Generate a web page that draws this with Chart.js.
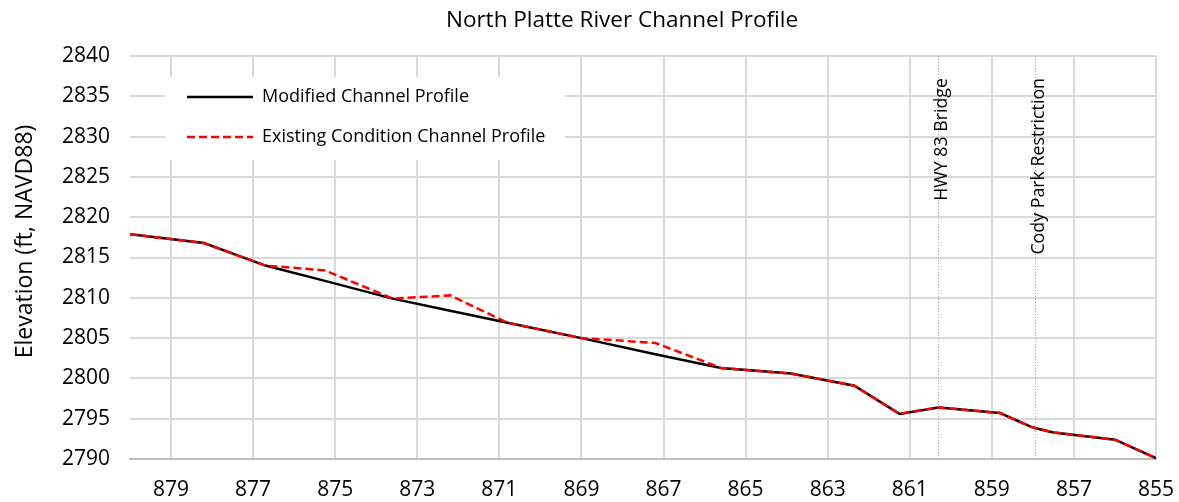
<!DOCTYPE html>
<html>
<head>
<meta charset="utf-8">
<script src="https://cdn.jsdelivr.net/npm/chart.js@4.4.1/dist/chart.umd.min.js"></script>
<style>
  html, body { margin: 0; padding: 0; background: #fff; }
  #wrap { width: 1179px; height: 502px; }
</style>
</head>
<body>
<div id="wrap"><canvas id="profileChart" width="1179" height="502"></canvas></div>
<script>
// river stations (miles) and elevations (ft, NAVD88)
const stations = [880.0, 878.2, 876.7, 875.25, 873.6, 872.2, 870.8, 869.0, 867.2, 865.6, 863.9, 862.35, 861.25, 860.3, 858.8, 858.0, 857.5, 856.0, 855.0];
const modifiedElev = [2817.9, 2816.8, 2814.0, 2812.1, 2809.9, 2808.4, 2806.9, 2805.0, 2803.0, 2801.3, 2800.6, 2799.1, 2795.6, 2796.4, 2795.7, 2793.9, 2793.3, 2792.4, 2790.1];
const existingElev = [2817.9, 2816.8, 2814.0, 2813.4, 2809.9, 2810.3, 2806.9, 2805.0, 2804.4, 2801.3, 2800.6, 2799.1, 2795.6, 2796.4, 2795.7, 2793.9, 2793.3, 2792.4, 2790.1];

const xTicks = [879, 877, 875, 873, 871, 869, 867, 865, 863, 861, 859, 857, 855];
const yTicks = [2790, 2795, 2800, 2805, 2810, 2815, 2820, 2825, 2830, 2835, 2840];

const markerStations = [860.3, 857.95];
const markerLabels = ['HWY 83 Bridge', 'Cody Park Restriction'];

const chartTitle = 'North Platte River Channel Profile';
const yTitle = 'Elevation (ft, NAVD88)';

const FONT = "'Open Sans', 'Noto Sans', sans-serif";

const toPoints = (ys) => stations.map((s, i) => ({ x: s, y: ys[i] }));

// dotted vertical reference lines with rotated labels
const markerPlugin = {
    id: 'markers',
    beforeDatasetsDraw(chart) {
        const { ctx, chartArea, scales } = chart;
        ctx.save();
        markerStations.forEach((s, i) => {
            const x = Math.round(scales.x.getPixelForValue(s)) + 0.5;
            ctx.strokeStyle = '#a0a0a0';
            ctx.lineWidth = 1;
            ctx.setLineDash([1, 2]);
            ctx.beginPath();
            ctx.moveTo(x, chartArea.top);
            ctx.lineTo(x, chartArea.bottom);
            ctx.stroke();

            ctx.setLineDash([]);
            ctx.save();
            ctx.translate(x + 3, chartArea.top + 22);
            ctx.rotate(-Math.PI / 2);
            ctx.fillStyle = '#000';
            ctx.font = '17.8px ' + FONT;
            ctx.textAlign = 'right';
            ctx.textBaseline = 'middle';
            ctx.fillText(markerLabels[i], 0, 0);
            ctx.restore();
        });
        ctx.restore();
    }
};

// legend box floating inside the plot area
const boxLegendPlugin = {
    id: 'boxLegend',
    beforeDatasetsDraw(chart) {
        const { ctx, chartArea } = chart;
        const left = chartArea.left + 35;
        const top = chartArea.top + 21;
        ctx.save();
        ctx.fillStyle = '#fff';
        ctx.fillRect(left, top, 400, 83);
        chart.data.datasets.forEach((ds, i) => {
            const y = top + 20 + i * 40;
            ctx.strokeStyle = ds.borderColor;
            ctx.lineWidth = ds.borderWidth;
            ctx.setLineDash(ds.borderDash || []);
            ctx.beginPath();
            ctx.moveTo(left + 22, y);
            ctx.lineTo(left + 88, y);
            ctx.stroke();
            ctx.setLineDash([]);
            ctx.fillStyle = '#000';
            ctx.font = '18px ' + FONT;
            ctx.textAlign = 'left';
            ctx.textBaseline = 'middle';
            ctx.fillText(ds.label, left + 97, y);
        });
        ctx.restore();
    }
};

// chart title and y-axis title, placed like the original sheet
const titlesPlugin = {
    id: 'titles',
    afterDraw(chart) {
        const { ctx, chartArea } = chart;
        ctx.save();
        ctx.fillStyle = '#000';
        ctx.textAlign = 'center';
        ctx.textBaseline = 'middle';
        ctx.font = '22.5px ' + FONT;
        ctx.fillText(chartTitle, (chartArea.left + chartArea.right) / 2 - 21, 21);

        ctx.translate(25, (chartArea.top + chartArea.bottom) / 2 - 16);
        ctx.rotate(-Math.PI / 2);
        ctx.font = '23px ' + FONT;
        ctx.fillText(yTitle, 0, 0);
        ctx.restore();
    }
};

document.addEventListener('DOMContentLoaded', function () {
    const ctx = document.getElementById('profileChart').getContext('2d');
    new Chart(ctx, {
        type: 'line',
        data: {
            datasets: [{
                label: 'Modified Channel Profile',
                data: toPoints(modifiedElev),
                borderColor: '#000000',
                borderWidth: 2.5,
                pointRadius: 0,
                tension: 0,
                order: 1
            }, {
                label: 'Existing Condition Channel Profile',
                data: toPoints(existingElev),
                borderColor: '#ff0000',
                borderWidth: 2.5,
                borderDash: [8, 4],
                pointRadius: 0,
                tension: 0,
                order: 0
            }]
        },
        options: {
            responsive: false,
            animation: false,
            layout: { padding: { left: 0, right: 23, top: 56, bottom: 0 } },
            plugins: {
                legend: { display: false },
                tooltip: { enabled: false },
                title: { display: false }
            },
            scales: {
                x: {
                    type: 'linear',
                    reverse: true,
                    min: 855,
                    max: 880,
                    afterBuildTicks: (scale) => { scale.ticks = xTicks.map(v => ({ value: v })); },
                    afterFit: (scale) => {
                        scale.height = 43;
                        scale.paddingLeft = 0;
                        scale.paddingRight = 0;
                    },
                    grid: { color: '#d9d9d9', lineWidth: 2, drawTicks: false },
                    border: { color: '#bfbfbf', width: 2 },
                    ticks: { color: '#000', padding: 18, maxRotation: 0, autoSkip: false,
                             callback: (v) => String(v),
                             font: { family: FONT, size: 21 } }
                },
                y: {
                    min: 2790,
                    max: 2840,
                    afterBuildTicks: (scale) => { scale.ticks = yTicks.map(v => ({ value: v })); },
                    afterFit: (scale) => {
                        scale.width = 130;
                        scale.paddingTop = 0;
                        scale.paddingBottom = 0;
                    },
                    grid: { color: '#d9d9d9', lineWidth: 2, drawTicks: false },
                    border: { display: false },
                    ticks: { color: '#000', padding: 20, callback: (v) => String(v),
                             font: { family: FONT, size: 21 } }
                }
            }
        },
        plugins: [markerPlugin, boxLegendPlugin, titlesPlugin]
    });
});
</script>
</body>
</html>
